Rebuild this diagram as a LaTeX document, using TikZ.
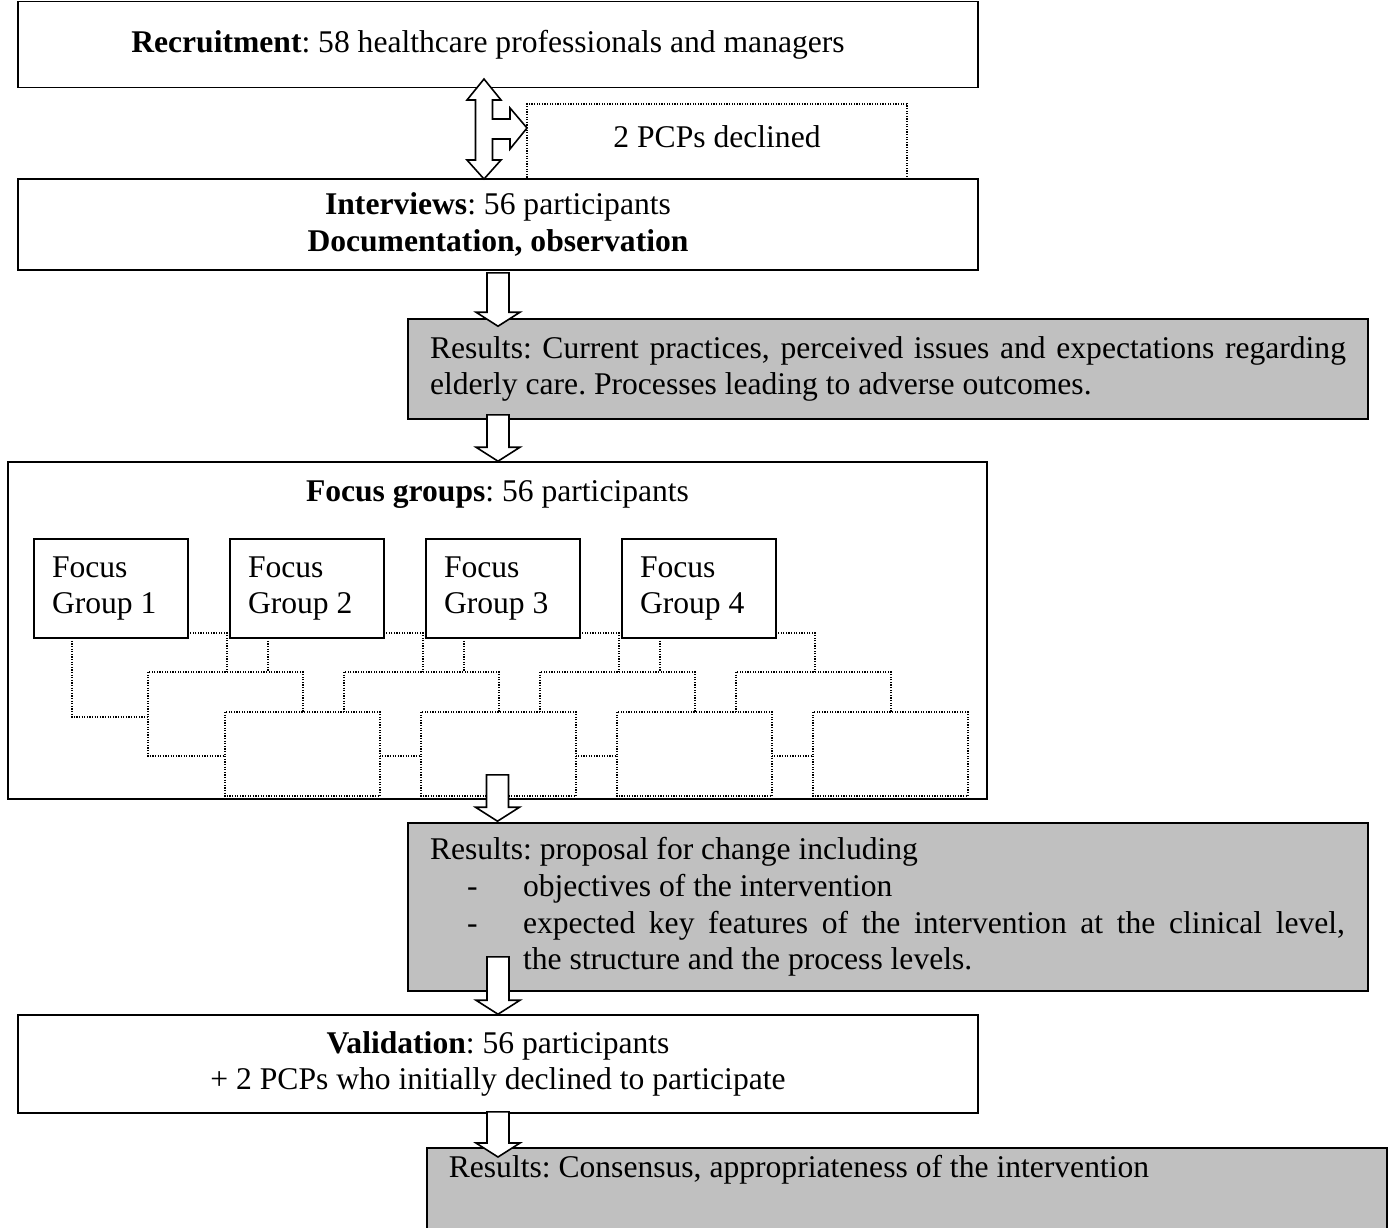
\documentclass[tikz,border=0pt]{standalone}
\usepackage{fontspec}
\setmainfont{Liberation Serif}
\usetikzlibrary{calc}
\definecolor{boxgrey}{RGB}{192,192,192}
\newcommand\blkarrow[2]{\draw[blk] let \p1=#1, \p2=#2 in
  (\x1-5.5pt,\y1) -- (\x1+5.5pt,\y1) -- (\x1+5.5pt,\y2+7pt) -- (\x1+11pt,\y2+7pt)
  -- (\x1,\y2) -- (\x1-11pt,\y2+7pt) -- (\x1-5.5pt,\y2+7pt) -- cycle;}
\begin{document}
\frenchspacing
\begin{tikzpicture}[x=0.5pt,y=-0.5pt,
  txt/.style={font=\fontsize{15.8pt}{18.4pt}\selectfont},
  solidbox/.style={txt, draw, line width=0.8pt, fill=white, inner sep=0pt, align=center},
  resbox/.style={txt, draw, line width=0.8pt, fill=boxgrey, inner xsep=11pt, inner ysep=0pt,
    align=flush left, text width=458pt, minimum width=480pt},
  dotbox/.style={txt, draw, line width=0.6pt, dash pattern=on 0.6pt off 0.7pt, fill=white, inner sep=0pt},
  dotrect/.style={draw, line width=0.6pt, dash pattern=on 0.6pt off 0.7pt, fill=white},
  fgbox/.style={txt, draw, line width=0.8pt, fill=white, inner xsep=9pt, inner ysep=0pt,
    align=flush left, text width=59pt, minimum height=49.5pt},
  blk/.style={draw, line width=0.8pt, fill=white, line join=miter}]

\useasboundingbox (0,0) rectangle (1391,1227);
\clip (0,0) rectangle (1391,1227);

% boxes
\node[solidbox, minimum width=480pt, minimum height=43pt] (recruit) at (498,44.5)
  {\textbf{Recruitment}: 58 healthcare professionals and managers\hspace*{10pt}};
\node[dotbox, minimum width=190pt, minimum height=37.5pt] (decl) at (717,141.5)
  {\raisebox{5.25pt}{2 PCPs declined}};
\node[solidbox, minimum width=480pt, minimum height=45.5pt] (interv) at (498,224.5)
  {\textbf{Interviews}: 56 participants\\ \textbf{Documentation, observation}};
\node[resbox, minimum height=50pt] (res1) at (888,369)
  {\makebox[458pt][s]{Results: Current practices, perceived issues and expectations regarding}\\
   \mbox{elderly care. Processes leading to adverse outcomes.}};

\node[solidbox, minimum width=489.5pt, minimum height=168.5pt] (focus) at (497.5,630.5) {};
\node[txt] (fgtitle) at (497.5,495) {\textbf{Focus groups}: 56 participants};

% dotted placeholder rectangles
\foreach \xo in {34,230,426,622} {\draw[dotrect] (\xo+38,633) rectangle (\xo+193,717);}
\foreach \xo in {34,230,426,622} {\draw[dotrect] (\xo+114,672) rectangle (\xo+269,756);}
\foreach \xo in {34,230,426,622} {\draw[dotrect] (\xo+191,712) rectangle (\xo+346,796);}

\foreach \i/\xo in {1/34,2/230,3/426,4/622}
  {\node[fgbox] (fg\i) at (\xo+77,588.5) {Focus\\Group \i};}

\node[resbox, minimum height=84pt] (res2) at (888,907)
  {Results: proposal for change including\\
   \makebox[46.5pt][l]{\hspace*{18.5pt}-}objectives of the intervention\\
   \makebox[46.5pt][l]{\hspace*{18.5pt}-}\makebox[411pt][s]{expected key features of the intervention at the clinical level,}\\
   \hspace*{46.5pt}the structure and the process levels.};

\node[solidbox, minimum width=480pt, minimum height=49pt] (valid) at (498,1064)
  {\textbf{Validation}: 56 participants\\ + 2 PCPs who initially declined to participate};

\node[resbox, anchor=north west, inner ysep=3.5pt, text depth=35pt, minimum width=479.5pt] (res3) at (426,1147)
  {Results: Consensus, appropriateness of the intervention};

% up-down-right block arrow
\coordinate (dc) at (484,128);
\draw[blk, shift={(dc)}]
  (0,-49) -- (17,-28) -- (8.5,-28) -- (8.5,-9) -- (26,-9) -- (26,-20) -- (43,0)
  -- (26,21) -- (26,11) -- (8.5,11) -- (8.5,32) -- (17,32) -- (0,51) -- (-17,32)
  -- (-8.5,32) -- (-8.5,-28) -- (-17,-28) -- cycle;

% down block arrows
\blkarrow{([yshift=-1pt]interv.south)}{([yshift=-4pt]res1.north -| interv.south)}
\blkarrow{([yshift=2.5pt]res1.south -| interv.south)}{(focus.north)}
\blkarrow{([yshift=12.5pt]focus.south)}{([yshift=0.5pt]res2.north -| focus.south)}
\blkarrow{([yshift=17.5pt]res2.south -| valid.south)}{(valid.north)}
\blkarrow{([yshift=1pt]valid.south)}{([yshift=-5pt]res3.north west -| valid.south)}
\end{tikzpicture}
\end{document}
